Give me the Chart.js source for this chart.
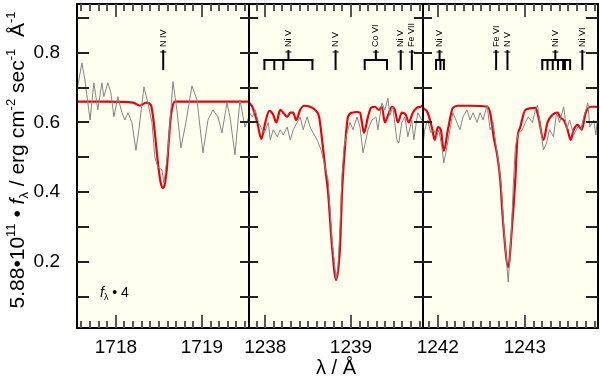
<!DOCTYPE html>
<html>
<head>
<meta charset="utf-8">
<script src="https://cdn.jsdelivr.net/npm/chart.js@4.4.1/dist/chart.umd.min.js"></script>
<style>
  html, body { margin: 0; padding: 0; background: #fff; }
  canvas { display: block; }
</style>
</head>
<body>
<canvas id="chart_spec" width="600" height="378"></canvas>
<script>
// panel 1 : N IV 1718
const wave1Obs = [1717.55, 1717.605, 1717.64, 1717.70, 1717.744, 1717.79, 1717.837, 1717.86, 1717.907, 1717.942,
  1717.977, 1718.023, 1718.07, 1718.105, 1718.14, 1718.186, 1718.233, 1718.267, 1718.326, 1718.372,
  1718.419, 1718.453, 1718.488, 1718.535, 1718.558, 1718.605, 1718.663, 1718.709, 1718.756, 1718.814,
  1718.884, 1718.942, 1719.012, 1719.07, 1719.128, 1719.186, 1719.233, 1719.291, 1719.326, 1719.384,
  1719.442, 1719.5, 1719.545];
const flux1Obs = [0.694, 0.771, 0.722, 0.607, 0.714, 0.636, 0.714, 0.674, 0.714, 0.685,
  0.616, 0.674, 0.628, 0.607, 0.628, 0.60, 0.52, 0.579, 0.702, 0.656,
  0.60, 0.50, 0.472, 0.464, 0.426, 0.52, 0.717, 0.636, 0.527, 0.60,
  0.705, 0.665, 0.513, 0.607, 0.636, 0.616, 0.570, 0.656, 0.616, 0.507,
  0.665, 0.587, 0.616];
const wave1Mod = [1717.55, 1717.9, 1718.2, 1718.28, 1718.35, 1718.407, 1718.43, 1718.453, 1718.477, 1718.5,
  1718.523, 1718.547, 1718.57, 1718.593, 1718.616, 1718.64, 1718.663, 1718.686, 1719.0, 1719.545];
const flux1Mod = [0.66, 0.66, 0.657, 0.648, 0.657, 0.65, 0.62, 0.57, 0.51, 0.46,
  0.425, 0.412, 0.425, 0.47, 0.55, 0.62, 0.65, 0.66, 0.66, 0.66];

// panel 2 : N V 1238.8
const wave2Obs = [1237.814, 1237.849, 1237.884, 1237.919, 1237.965, 1237.988, 1238.035, 1238.058, 1238.093, 1238.14,
  1238.174, 1238.209, 1238.256, 1238.291, 1238.326, 1238.372, 1238.407, 1238.442, 1238.488, 1238.523,
  1238.558, 1238.605, 1238.651, 1238.698, 1238.733, 1238.779, 1238.826, 1238.849, 1238.872, 1238.895,
  1238.919, 1238.953, 1238.988, 1239.023, 1239.07, 1239.105, 1239.14, 1239.174, 1239.198, 1239.244,
  1239.291, 1239.314, 1239.36, 1239.395, 1239.43, 1239.453, 1239.488, 1239.535, 1239.558, 1239.593,
  1239.628, 1239.663, 1239.709, 1239.733, 1239.779, 1239.826];
const flux2Obs = [0.628, 0.616, 0.636, 0.60, 0.579, 0.57, 0.60, 0.55, 0.579, 0.559,
  0.579, 0.564, 0.587, 0.55, 0.579, 0.60, 0.616, 0.579, 0.616, 0.587,
  0.57, 0.55, 0.521, 0.472, 0.435, 0.26, 0.15, 0.19, 0.30, 0.45,
  0.53, 0.57, 0.60, 0.579, 0.616, 0.587, 0.513, 0.55, 0.579, 0.607,
  0.616, 0.579, 0.656, 0.636, 0.67, 0.62, 0.645, 0.55, 0.541, 0.60,
  0.616, 0.559, 0.607, 0.55, 0.628, 0.607];
const wave2Mod = [1237.814, 1237.849, 1237.907, 1237.953, 1238.0, 1238.047, 1238.093, 1238.128, 1238.174, 1238.209,
  1238.256, 1238.291, 1238.326, 1238.36, 1238.407, 1238.453, 1238.523, 1238.581, 1238.628, 1238.663,
  1238.698, 1238.733, 1238.779, 1238.826, 1238.872, 1238.895, 1238.93, 1238.965, 1239.012, 1239.07,
  1239.105, 1239.128, 1239.151, 1239.198, 1239.233, 1239.279, 1239.326, 1239.36, 1239.395, 1239.43,
  1239.477, 1239.512, 1239.547, 1239.593, 1239.64, 1239.674, 1239.721, 1239.767, 1239.814, 1239.837];
const flux2Mod = [0.656, 0.645, 0.60, 0.553, 0.60, 0.633, 0.622, 0.60, 0.636, 0.628,
  0.616, 0.628, 0.628, 0.607, 0.636, 0.648, 0.645, 0.636, 0.616, 0.55,
  0.472, 0.398, 0.243, 0.148, 0.243, 0.398, 0.53, 0.616, 0.628, 0.63,
  0.628, 0.60, 0.57, 0.616, 0.642, 0.645, 0.636, 0.645, 0.60, 0.619,
  0.645, 0.636, 0.60, 0.628, 0.622, 0.60, 0.628, 0.642, 0.645, 0.65];

// panel 3 : N V 1242.8
const wave3Obs = [1241.827, 1241.85, 1241.884, 1241.919, 1241.954, 1241.988, 1242.012, 1242.046, 1242.069, 1242.104,
  1242.139, 1242.173, 1242.22, 1242.254, 1242.289, 1242.335, 1242.37, 1242.405, 1242.451, 1242.486,
  1242.52, 1242.566, 1242.601, 1242.636, 1242.671, 1242.694, 1242.728, 1242.763, 1242.809, 1242.844,
  1242.867, 1242.89, 1242.925, 1242.971, 1243.006, 1243.04, 1243.087, 1243.121, 1243.145, 1243.179,
  1243.214, 1243.249, 1243.283, 1243.329, 1243.364, 1243.399, 1243.445, 1243.48, 1243.514, 1243.561,
  1243.607, 1243.642, 1243.676, 1243.723, 1243.746, 1243.792, 1243.815, 1243.84];
const flux3Obs = [0.53, 0.579, 0.607, 0.57, 0.579, 0.559, 0.579, 0.53, 0.484, 0.53,
  0.579, 0.628, 0.60, 0.579, 0.616, 0.636, 0.607, 0.628, 0.60, 0.628,
  0.607, 0.65, 0.579, 0.60, 0.53, 0.493, 0.42, 0.28, 0.142, 0.28,
  0.42, 0.53, 0.57, 0.579, 0.60, 0.616, 0.60, 0.636, 0.65, 0.587,
  0.521, 0.541, 0.579, 0.559, 0.628, 0.60, 0.645, 0.579, 0.607, 0.564,
  0.587, 0.579, 0.616, 0.656, 0.587, 0.607, 0.564, 0.628];
const wave3Mod = [1241.827, 1241.884, 1241.931, 1241.965, 1242.0, 1242.035, 1242.069, 1242.116, 1242.173, 1242.231,
  1242.37, 1242.566, 1242.601, 1242.647, 1242.682, 1242.717, 1242.751, 1242.809, 1242.855, 1242.89,
  1242.913, 1242.948, 1243.006, 1243.121, 1243.156, 1243.214, 1243.26, 1243.318, 1243.376, 1243.41,
  1243.445, 1243.491, 1243.526, 1243.561, 1243.607, 1243.653, 1243.699, 1243.757, 1243.84];
const flux3Mod = [0.642, 0.628, 0.587, 0.55, 0.587, 0.579, 0.518, 0.579, 0.642, 0.648,
  0.648, 0.645, 0.628, 0.55, 0.507, 0.435, 0.31, 0.185, 0.31, 0.435,
  0.55, 0.587, 0.636, 0.642, 0.616, 0.55, 0.60, 0.622, 0.628, 0.613,
  0.607, 0.579, 0.55, 0.579, 0.593, 0.579, 0.628, 0.645, 0.645];

// axis ranges of the three panels
const panelMin = [1717.548, 1237.81, 1241.83];
const panelMax = [1719.547, 1239.84, 1243.84];
const panelWeight = [172, 174, 175];

// tick marks
const yTickValues = [0.1, 0.2, 0.3, 0.4, 0.5, 0.6, 0.7, 0.8, 0.9];
const xTickStep = 0.1;

// line identifications
const idLabels = ['N IV', 'Ni V', 'N V', 'Co VI', 'Ni V', 'Fe VII', 'Ni V', 'Fe VI', 'N V', 'Ni V', 'Ni VI'];
const idAxes = ['x1', 'x2', 'x2', 'x2', 'x2', 'x2', 'x3', 'x3', 'x3', 'x3', 'x3'];
const idWaves = [1718.55, 1238.27, 1238.82, 1239.29, 1239.58, 1239.71, 1242.02, 1242.67, 1242.80, 1243.35, 1243.66];
const idComps = [[], [1237.99, 1238.105, 1238.21, 1238.55], [], [1239.16, 1239.42], [], [],
  [1241.98, 1242.03, 1242.07], [], [], [1243.20, 1243.26, 1243.32, 1243.38, 1243.44, 1243.46, 1243.52], []];

const FONT = "'Liberation Sans', Arial, Helvetica, sans-serif";
Chart.defaults.font.family = FONT;
Chart.defaults.color = '#000';

function pts(xs, ys) {
  return xs.map((x, i) => ({ x: x, y: ys[i] }));
}

function obsSet(xs, ys, axis) {
  return { data: pts(xs, ys), xAxisID: axis, yAxisID: 'y', borderColor: '#858585',
    borderWidth: 1, pointRadius: 0, tension: 0 };
}
function modSet(xs, ys, axis) {
  return { data: pts(xs, ys), xAxisID: axis, yAxisID: 'y', borderColor: '#e8000b',
    borderWidth: 2.2, pointRadius: 0, cubicInterpolationMode: 'monotone' };
}

function isWhole(v) {
  return Math.abs(v - Math.round(v)) < 1e-6;
}

function xScale(i) {
  return {
    type: 'linear', position: 'bottom', stack: 'wl', stackWeight: panelWeight[i],
    min: panelMin[i], max: panelMax[i],
    grid: { display: false, drawTicks: false }, border: { display: false },
    ticks: {
      stepSize: xTickStep, includeBounds: false, autoSkip: false, maxRotation: 0, minRotation: 0,
      padding: 8, font: { size: 19 },
      callback: v => (isWhole(v) ? String(Math.round(v)) : '')
    },
    afterFit: s => {
      s.height = 50;
      s.paddingLeft = 0; s.paddingRight = 0; s.paddingTop = 0; s.paddingBottom = 0;
    }
  };
}

// text with super/subscripts, drawn piece by piece
function richText(ctx, parts, x, y, align) {
  let total = 0;
  parts.forEach(p => {
    ctx.font = (p.it ? 'italic ' : '') + p.size + 'px ' + FONT;
    p.w = ctx.measureText(p.t).width;
    total += p.w;
  });
  let cx = align === 'center' ? x - total / 2 : x;
  parts.forEach(p => {
    ctx.font = (p.it ? 'italic ' : '') + p.size + 'px ' + FONT;
    ctx.fillText(p.t, cx, y + (p.dy || 0));
    cx += p.w;
  });
}

function seg(ctx, x1, y1, x2, y2) {
  ctx.beginPath();
  ctx.moveTo(x1, y1);
  ctx.lineTo(x2, y2);
  ctx.stroke();
}

// cream plot background under the spectra
const bgPlugin = {
  id: 'panelBg',
  beforeDatasetsDraw(chart) {
    const { ctx, chartArea: a } = chart;
    ctx.save();
    ctx.fillStyle = '#fffff0';
    ctx.fillRect(a.left, a.top, a.right - a.left, a.bottom - a.top);
    ctx.restore();
  }
};

// frame, inward ticks, line ids and titles
const framePlugin = {
  id: 'panelFrame',
  afterDraw(chart) {
    const ctx = chart.ctx;
    const a = chart.chartArea;
    const yScale = chart.scales.y;
    const seps = [chart.scales.x2.left, chart.scales.x3.left];
    ctx.save();

    // frame and panel borders
    ctx.strokeStyle = '#000';
    ctx.lineWidth = 2;
    ctx.strokeRect(a.left, a.top, a.right - a.left, a.bottom - a.top);
    seps.forEach(sx => seg(ctx, sx, a.top, sx, a.bottom));

    // x ticks every 0.1 A, longer at whole Angstrom, bottom and top
    ctx.strokeStyle = '#555555';
    ctx.lineWidth = 2;
    ['x1', 'x2', 'x3'].forEach((id, k) => {
      const s = chart.scales[id];
      const first = Math.ceil(panelMin[k] / xTickStep);
      const last = Math.floor(panelMax[k] / xTickStep);
      for (let n = first; n <= last; n++) {
        const px = Math.round(s.getPixelForValue(n * xTickStep));
        const len = n % 10 === 0 ? 13 : 7;
        seg(ctx, px, a.bottom, px, a.bottom - len);
        seg(ctx, px, a.top, px, a.top + len);
      }
    });

    // y ticks at the edges and across the panel borders
    ctx.strokeStyle = '#222222';
    ctx.lineWidth = 2;
    for (let j = 0; j < yTickValues.length; j++) {
      const py = Math.round(yScale.getPixelForValue(yTickValues[j]));
      seg(ctx, a.left, py, a.left + 12, py);
      seg(ctx, a.right, py, a.right - 12, py);
      seg(ctx, seps[0] - 9, py, seps[0] + 9, py);
      seg(ctx, seps[1] - 9, py, seps[1] + 9, py);
    }

    // line identifications
    ctx.strokeStyle = '#000';
    ctx.fillStyle = '#000';
    idWaves.forEach((w, i) => {
      const s = chart.scales[idAxes[i]];
      const x = s.getPixelForValue(w);
      const comps = idComps[i];
      ctx.lineWidth = 2;
      if (comps.length) {
        const cxs = comps.map(c => s.getPixelForValue(c));
        seg(ctx, x, 50, x, 60);
        seg(ctx, Math.min(...cxs) - 1, 60, Math.max(...cxs) + 1, 60);
        cxs.forEach(cx => seg(ctx, cx, 60, cx, 70));
      } else {
        seg(ctx, x, 50, x, 70);
      }
      ctx.lineWidth = 1;
      seg(ctx, x - 3, 52, x + 3, 52);
      ctx.save();
      ctx.translate(x, 47);
      ctx.rotate(-Math.PI / 2);
      ctx.textAlign = 'left';
      ctx.textBaseline = 'middle';
      ctx.font = '9px ' + FONT;
      ctx.fillText(idLabels[i], 0, 0);
      ctx.restore();
    });

    // f_lambda scaling note
    ctx.textAlign = 'left';
    ctx.textBaseline = 'alphabetic';
    richText(ctx, [
      { t: 'f', size: 14, it: true },
      { t: 'λ', size: 9, dy: 3 },
      { t: ' • 4', size: 14 }
    ], a.left + 23, 297, 'left');

    // x title
    richText(ctx, [{ t: 'λ / Å', size: 20 }], (chart.scales.x2.left + chart.scales.x2.right) / 2, 374, 'center');

    // y title
    ctx.save();
    ctx.translate(24, 160);
    ctx.rotate(-Math.PI / 2);
    richText(ctx, [
      { t: '5.88•10', size: 21 },
      { t: '11', size: 13, dy: -9 },
      { t: ' • ', size: 21 },
      { t: 'f', size: 21, it: true },
      { t: 'λ', size: 13, dy: 4 },
      { t: ' / erg cm', size: 21 },
      { t: '-2', size: 13, dy: -9 },
      { t: ' sec', size: 21 },
      { t: '-1', size: 13, dy: -9 },
      { t: '  Å', size: 21 },
      { t: '-1', size: 13, dy: -9 }
    ], 0, 0, 'center');
    ctx.restore();

    ctx.restore();
  }
};

new Chart(document.getElementById('chart_spec'), {
  type: 'line',
  data: {
    datasets: [
      obsSet(wave1Obs, flux1Obs, 'x1'),
      obsSet(wave2Obs, flux2Obs, 'x2'),
      obsSet(wave3Obs, flux3Obs, 'x3'),
      modSet(wave1Mod, flux1Mod, 'x1'),
      modSet(wave2Mod, flux2Mod, 'x2'),
      modSet(wave3Mod, flux3Mod, 'x3')
    ]
  },
  options: {
    responsive: false,
    animation: false,
    devicePixelRatio: 1,
    layout: { padding: { top: 4, right: 2, left: 0, bottom: 0 } },
    plugins: { legend: { display: false }, tooltip: { enabled: false } },
    scales: {
      x1: xScale(0),
      x2: xScale(1),
      x3: xScale(2),
      y: {
        type: 'linear', position: 'left', min: 0.01, max: 0.94,
        grid: { display: false, drawTicks: false }, border: { display: false },
        ticks: {
          stepSize: 0.1, includeBounds: false, padding: 17, font: { size: 19 },
          callback: v => (Math.round(v * 10) % 2 === 0 ? v.toFixed(1) : '')
        },
        afterFit: s => {
          s.width = 77;
          s.paddingLeft = 0; s.paddingRight = 0; s.paddingTop = 0; s.paddingBottom = 0;
        }
      }
    }
  },
  plugins: [bgPlugin, framePlugin]
});
</script>
</body>
</html>
